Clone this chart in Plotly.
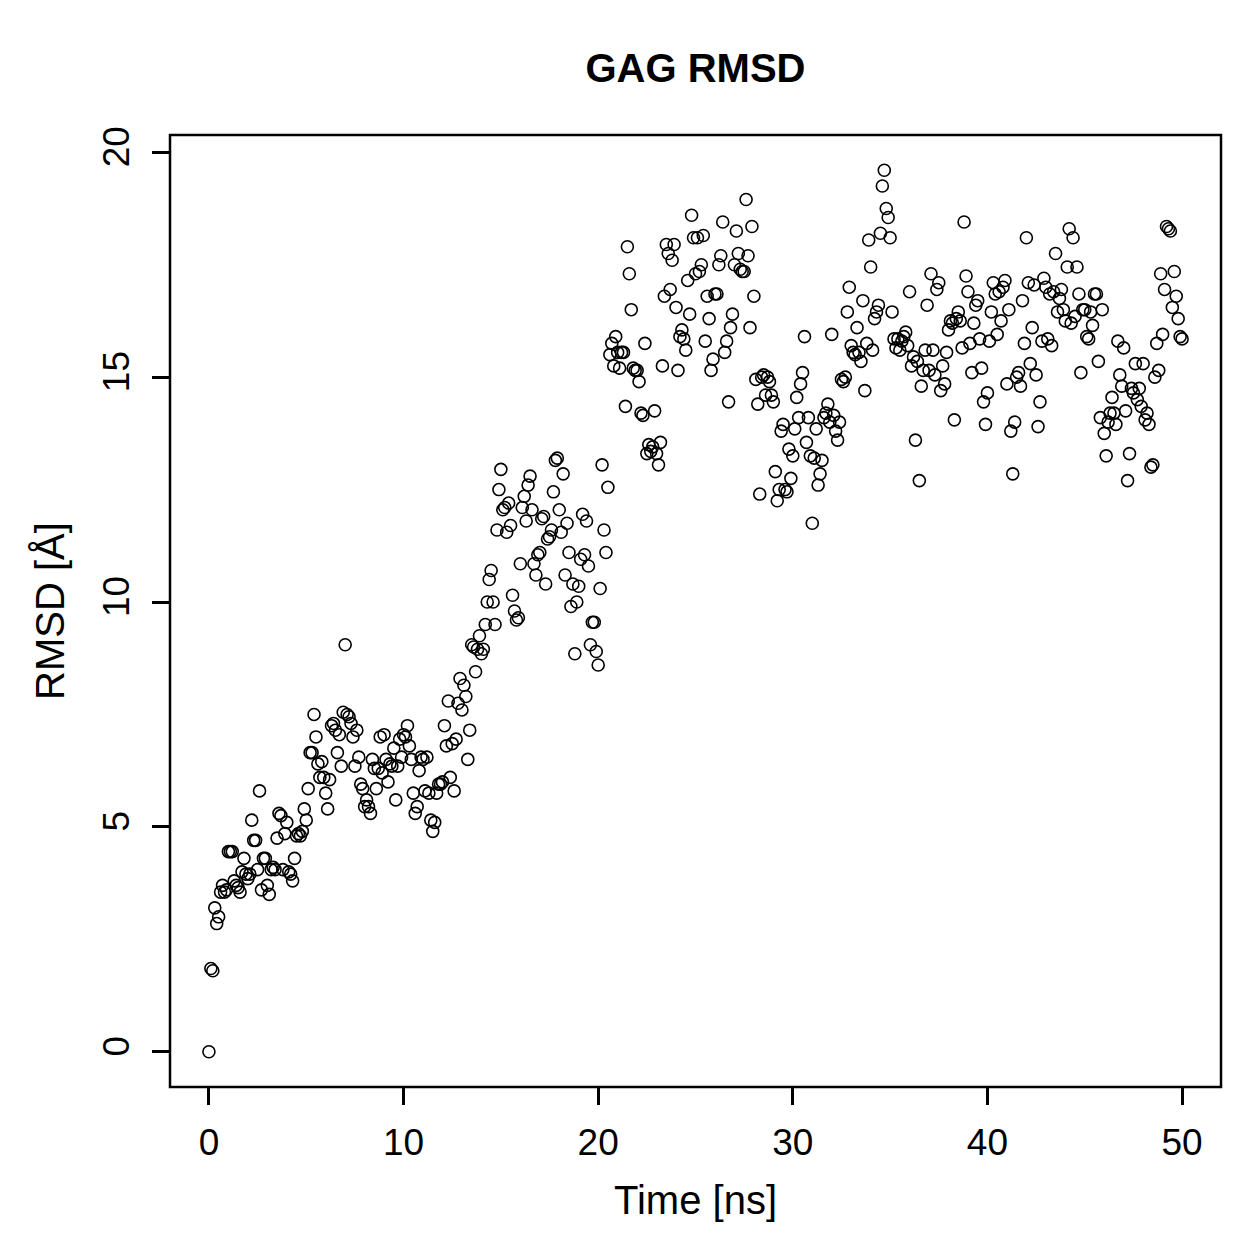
import plotly.graph_objects as go

# Time in ns (0.1 ns steps), RMSD values
time_ns = [round(i * 0.1, 1) for i in range(501)]

rmsd = [
    # 0-1
    0.0, 1.85, 1.8, 3.2, 2.85, 3.0, 3.55, 3.7, 3.55, 3.6,
    # 1-2
    4.45, 4.45, 4.45, 3.8, 3.7, 3.65, 3.55, 4.0, 4.3, 3.95,
    # 2-3
    3.85, 3.95, 5.15, 4.7, 4.7, 4.05, 5.8, 3.6, 4.3, 4.3,
    # 3-4
    3.7, 3.5, 4.05, 4.1, 4.05, 4.75, 5.3, 5.25, 4.05, 4.85,
    # 4-5
    5.1, 4.0, 3.95, 3.8, 4.3, 4.8, 4.85, 4.8, 4.9, 5.4,
    # 5-6
    5.15, 5.85, 6.65, 6.65, 7.5, 7.0, 6.4, 6.1, 6.45, 6.1,
    # 6-7
    5.75, 5.4, 6.05, 7.25, 7.3, 7.15, 6.65, 7.05, 6.35, 7.55,
    # 7-8
    9.05, 7.5, 7.45, 7.3, 7.0, 6.35, 7.15, 6.55, 5.95, 5.85,
    # 8-9
    5.45, 5.6, 5.45, 5.3, 6.5, 6.3, 5.85, 6.3, 7.0, 6.2,
    # 9-10
    7.05, 6.5, 6.0, 6.4, 6.35, 6.75, 5.6, 6.35, 6.95, 6.55,
    # 10-11
    7.05, 7.0, 7.25, 6.8, 6.5, 5.75, 5.3, 5.45, 6.25, 6.55,
    # 11-12
    6.5, 5.8, 6.55, 5.75, 5.15, 4.9, 5.1, 5.75, 5.95, 5.95,
    # 12-13
    6.0, 7.25, 6.8, 7.8, 6.1, 6.85, 5.8, 6.95, 7.75, 8.3,
    # 13-14
    7.6, 8.15, 7.9, 6.5, 7.15, 9.05, 9.0, 8.45, 8.95, 9.25,
    # 14-15
    8.85, 8.95, 9.5, 10.0, 10.5, 10.7, 10.0, 9.5, 11.6, 12.5,
    # 15-16
    12.95, 12.05, 12.1, 11.55, 12.2, 11.7, 10.15, 9.8, 9.6, 9.65,
    # 16-17
    10.85, 12.1, 12.35, 11.8, 12.6, 12.8, 12.05, 10.85, 10.6, 11.05,
    # 17-18
    11.1, 11.85, 11.9, 10.4, 11.4, 11.45, 11.6, 12.45, 13.15, 13.2,
    # 18-19
    12.05, 11.55, 12.85, 10.6, 11.75, 11.1, 9.9, 10.4, 8.85, 10.0,
    # 19-20
    10.35, 10.95, 11.95, 11.05, 11.8, 10.8, 9.05, 9.55, 9.55, 8.9,
    # 20-21
    8.6, 10.3, 13.05, 11.6, 11.1, 12.55, 15.5, 15.75, 15.25, 15.9,
    # 21-22
    15.55, 15.2, 15.55, 15.55, 14.35, 17.9, 17.3, 16.5, 15.2, 15.15,
    # 22-23
    15.15, 14.9, 14.2, 14.15, 15.75, 13.3, 13.5, 13.35, 13.45, 14.25,
    # 23-24
    13.3, 13.05, 13.55, 15.25, 16.8, 17.95, 17.75, 16.95, 17.6, 17.95,
    # 24-25
    16.55, 15.15, 15.9, 16.05, 15.85, 15.6, 17.15, 16.4, 18.6, 18.1,
    # 25-26
    17.3, 18.1, 17.35, 17.5, 18.15, 15.8, 16.8, 16.3, 15.15, 15.4,
    # 26-27
    16.85, 16.85, 17.5, 17.7, 18.45, 15.55, 15.8, 14.45, 16.1, 16.4,
    # 27-28
    17.5, 18.25, 17.75, 17.4, 17.35, 17.35, 18.95, 17.7, 16.1, 18.35,
    # 28-29
    16.8, 14.95, 14.4, 12.4, 15.0, 15.05, 14.6, 15.0, 14.9, 14.6,
    # 29-30
    14.45, 12.9, 12.25, 12.5, 13.8, 13.95, 12.5, 12.45, 13.4, 12.75,
    # 30-31
    13.25, 13.85, 14.55, 14.1, 14.85, 15.1, 15.9, 13.55, 14.1, 13.25,
    # 31-32
    11.75, 13.2, 13.85, 12.6, 12.85, 13.15, 14.1, 14.2, 14.4, 14.0,
    # 32-33
    15.95, 14.15, 13.8, 13.6, 14.0, 14.95, 14.9, 15.0, 16.45, 17.0,
    # 33-34
    15.7, 15.55, 15.5, 16.1, 15.55, 15.35, 16.7, 14.7, 15.75, 18.05,
    # 34-35
    17.45, 15.6, 16.3, 16.45, 16.6, 18.2, 19.25, 19.6, 18.75, 18.55,
    # 35-36
    18.1, 16.45, 15.85, 15.65, 15.85, 15.6, 15.8, 15.9, 16.0, 15.7,
    # 36-37
    16.9, 15.25, 15.45, 13.6, 15.35, 12.7, 14.8, 15.15, 15.6, 16.6,
    # 37-38
    15.15, 17.3, 15.6, 15.05, 16.95, 17.1, 14.7, 15.25, 14.85, 15.55,
    # 38-39
    16.05, 16.25, 16.2, 14.05, 16.3, 16.45, 16.25, 15.65, 18.45, 17.25,
    # 39-40
    16.9, 15.75, 15.1, 16.2, 16.6, 16.7, 15.85, 15.2, 14.45, 13.95,
    # 40-41
    14.65, 15.8, 16.45, 17.1, 16.85, 15.95, 16.9, 16.25, 17.0, 17.15,
    # 41-42
    14.85, 16.5, 13.8, 12.85, 14.0, 15.0, 15.1, 14.8, 16.7, 15.75,
    # 42-43
    18.1, 17.1, 15.3, 16.1, 17.05, 15.05, 13.9, 14.45, 15.8, 17.2,
    # 43-44
    17.0, 15.85, 16.85, 15.7, 16.9, 17.75, 16.45, 16.75, 16.95, 16.5,
    # 44-45
    16.25, 17.45, 18.3, 16.2, 18.1, 16.35, 17.45, 16.85, 15.1, 16.5,
    # 45-46
    16.5, 15.9, 15.85, 16.45, 16.15, 16.85, 16.85, 15.35, 14.1, 16.5,
    # 46-47
    13.75, 13.25, 14.0, 14.2, 14.55, 14.2, 13.95, 15.8, 15.05, 14.8,
    # 47-48
    15.65, 14.25, 12.7, 13.3, 14.75, 14.65, 15.3, 14.5, 14.75, 14.35,
    # 48-49
    15.3, 14.05, 14.2, 13.95, 13.0, 13.05, 15.0, 15.75, 15.15, 17.3,
    # 49-50
    15.95, 16.95, 18.35, 18.3, 18.25, 16.55, 17.35, 16.8, 16.3, 15.9,
    # 50
    15.85,
]

x_ticks = [0, 10, 20, 30, 40, 50]
y_ticks = [0, 5, 10, 15, 20]

FONT = "Liberation Sans, Arial, Helvetica, sans-serif"

fig = go.Figure()
fig.add_trace(go.Scatter(
    x=time_ns, y=rmsd, mode="markers",
    marker=dict(symbol="circle-open", size=12, color="black",
                line=dict(width=1.6, color="black")),
    showlegend=False, hoverinfo="skip",
))

axis_common = dict(
    showgrid=False, zeroline=False, showline=False,
    ticks="outside", ticklen=17, tickwidth=2.5, tickcolor="black",
    tickfont=dict(family=FONT, size=37, color="black"),
)

fig.update_xaxes(range=[-2, 52], tickvals=x_ticks, ticktext=[str(v) for v in x_ticks],
                 ticklabelstandoff=6, **axis_common)
fig.update_yaxes(range=[-0.784, 20.384], tickvals=y_ticks, ticktext=[str(v) for v in y_ticks],
                 tickangle=-90, ticklabelstandoff=8, **axis_common)

# box around plot region
fig.add_shape(type="rect", xref="paper", yref="paper", x0=0, y0=0, x1=1, y1=1,
              line=dict(color="black", width=2.5))

fig.add_annotation(text="Time [ns]", xref="paper", yref="paper", x=0.5, y=0,
                   yshift=-113, showarrow=False, yanchor="middle", xanchor="center",
                   font=dict(family=FONT, size=40, color="black"))
fig.add_annotation(text="RMSD [Å]", xref="paper", yref="paper", x=0, y=0.5,
                   xshift=-120, showarrow=False, yanchor="middle", xanchor="center",
                   textangle=-90, font=dict(family=FONT, size=40, color="black"))

fig.update_layout(
    width=1259, height=1259,
    margin=dict(l=170, r=38, t=135, b=172),
    paper_bgcolor="white", plot_bgcolor="white",
    title=dict(text="<b>GAG RMSD</b>", x=(170 + 1221) / 2 / 1259, xanchor="center",
               y=1 - 68 / 1259, yanchor="middle", yref="container",
               font=dict(family=FONT, size=40, color="black")),
)

fig.write_html("out.html")
